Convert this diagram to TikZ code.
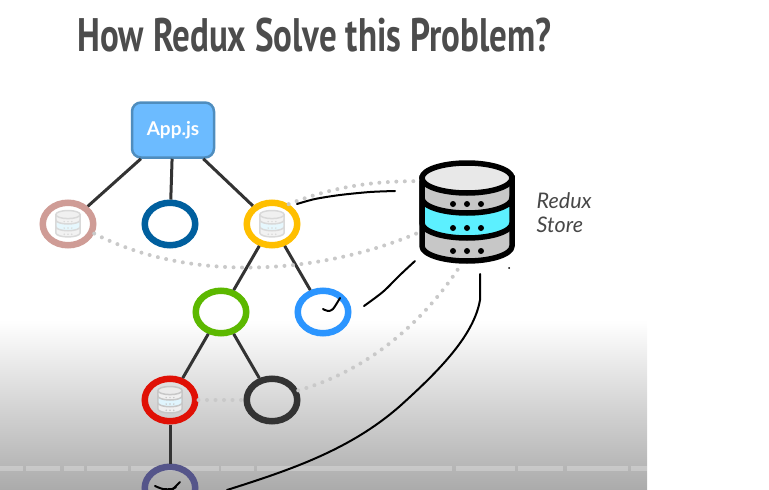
\documentclass[tikz,border=0pt]{standalone}
\usepackage{fontspec}
\setmainfont{Lato}
\newfontfamily\titlefont{PT Sans}
\usetikzlibrary{positioning,shapes.geometric}
\definecolor{stline}{HTML}{333333}
\definecolor{dotgrey}{HTML}{C9C9C9}
\definecolor{appfill}{HTML}{6CBBFF}
\definecolor{appline}{HTML}{4F8DBE}
\definecolor{rosec}{HTML}{CF9C96}
\definecolor{navyc}{HTML}{005F9E}
\definecolor{goldc}{HTML}{FFBF00}
\definecolor{greenc}{HTML}{5CB800}
\definecolor{skyc}{HTML}{2B95FF}
\definecolor{redc}{HTML}{E01005}
\definecolor{leafc}{HTML}{55558A}
\definecolor{bandc}{HTML}{5CF0FF}
\tikzset{
  tree/.style={ellipse,draw=#1,line width=6.5pt,minimum width=50.5pt,minimum height=42.5pt,inner sep=0pt},
  edge/.style={stline,line width=3pt},
  dotline/.style={dotgrey,line width=4pt,line cap=round,dash pattern=on 0pt off 8.5pt},
  hand/.style={black,line width=2pt,line cap=round,line join=round}
}
% store icon: at, scale, line width, line, top, body, band
\newcommand{\dbstore}[7]{
  \begin{scope}[shift={(#1)},scale=#2,line width=#3,draw=#4]
    \filldraw[fill=#6] (-45,-35) -- (-45,33) arc[start angle=180,end angle=0,x radius=45,y radius=15] -- (45,-35) -- cycle;
    \filldraw[fill=#7] (-45,-15) arc[start angle=180,end angle=0,x radius=45,y radius=15] -- (45,10) arc[start angle=0,end angle=180,x radius=45,y radius=15] -- cycle;
    \filldraw[fill=#5] (0,-35) ellipse[x radius=45,y radius=15];
    \foreach \y in {-9,15,38} \foreach \x in {-14,0,14} \fill[#4] (\x,\y) circle(3);
  \end{scope}
}
\begin{document}
\begin{tikzpicture}[x=1pt,y=-1pt]
  \useasboundingbox (0,0) rectangle (769,490);
  \clip (0,0) rectangle (769,490);
  \shade[top color=white,bottom color=black!33] (0,320) rectangle (647,490);
  \foreach \a/\b in {0/23,26/60,64/84,87/128,131/219,221/254,257/452,456/515,518/563,567/628,631/647}
    \fill[white,opacity=.25] (\a,465.5) rectangle (\b,470.5);
  \node[text=black!70,font=\titlefont\bfseries\fontsize{47}{47}\selectfont,xscale=.745,anchor=west] (title) at (75,35) {How Redux Solve this Problem?};

  \node[rectangle,rounded corners=9pt,draw=appline,fill=appfill,line width=2.5pt,minimum width=82pt,minimum height=55pt,text=white,font=\bfseries\fontsize{19}{19}\selectfont] (app) at (173,130) {App.js};
  \node[tree=rosec] (rose) at (68,224) {};
  \node[tree=navyc] (navy) at (170,224) {};
  \node[tree=goldc] (gold) at (272,224) {};
  \node[tree=greenc] (green) at (221,312) {};
  \node[tree=skyc] (sky) at (323,312) {};
  \node[tree=redc] (red) at (170,400) {};
  \node[tree=stline] (dark) at (272,400) {};
  \node[tree=leafc] (leaf) at (170,488) {};
  \node[minimum width=94pt,minimum height=104pt,inner sep=0pt] (store) at (467,213) {};
  \node[text=black!72,font=\itshape\fontsize{21.5}{24}\selectfont,align=left,right=19pt of store.east] (storelabel) {Redux\\Store};

  % tree edges
  \draw[edge] (app) -- (rose);
  \draw[edge] (app) -- (navy);
  \draw[edge] (app) -- (gold);
  \draw[edge] (gold) -- (green);
  \draw[edge] (gold) -- (sky);
  \draw[edge] (green) -- (red);
  \draw[edge] (green) -- (dark);
  \draw[edge] (red) -- (leaf);

  % links to the store
  \draw[dotline] (gold.50) .. controls (335,186) and (375,181) .. (store.146);
  \draw[dotline] (rose.-20) .. controls (190,283) and (320,275) .. (store.202);
  \draw[dotline] (dark.20) .. controls (370,370) and (425,320) .. (store.-97);
  \draw[dotline] (red.east) -- (dark.west);

  \dbstore{467,213}{1}{5.5pt}{black}{black!9}{black!22}{bandc}
  \dbstore{68,224}{.27}{1.5pt}{black!15}{black!6}{black!5}{cyan!10}
  \dbstore{272,224}{.27}{1.5pt}{black!15}{black!6}{black!5}{cyan!10}
  \dbstore{170,400}{.27}{1.5pt}{black!22}{black!8}{black!6}{cyan!12}

  % marks by hand
  \draw[hand] plot[smooth] coordinates {(297,204) (315,199) (340,195) (370,192) (395,191)};
  \draw[hand] plot[smooth] coordinates {(415,261) (400,275) (385,290) (375,298) (364,306)};
  \draw[hand] plot[smooth] coordinates {(323,309) (328,311) (333,309) (340,298)};
  \draw[hand] (480,274) -- (480,300) .. controls (474,335) and (440,370) .. (400,406) .. controls (350,450) and (290,470) .. (227,490);
  \draw[hand] plot[smooth] coordinates {(155,486) (163,489) (172,489) (176,487)};
  \draw[hand] (180,482) -- (172,490);
  \fill (509,268) circle(1);
\end{tikzpicture}
\end{document}
